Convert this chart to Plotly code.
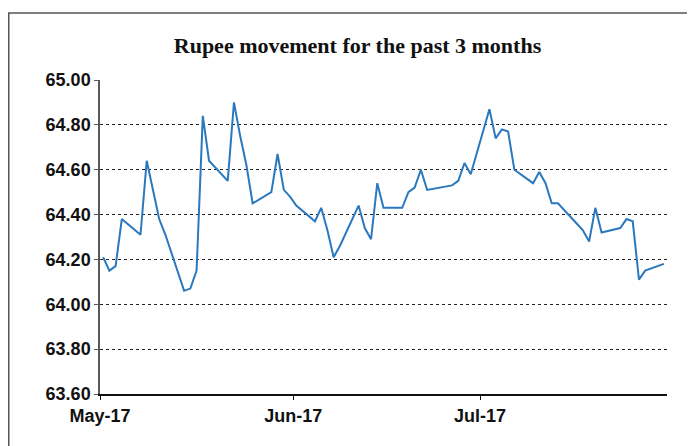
import pandas as pd
import plotly.graph_objects as go

dates = [
    "2017-05-02", "2017-05-03", "2017-05-04", "2017-05-05", "2017-05-08", "2017-05-09",
    "2017-05-11", "2017-05-12", "2017-05-15", "2017-05-16", "2017-05-17", "2017-05-18",
    "2017-05-19", "2017-05-22", "2017-05-23", "2017-05-24", "2017-05-25", "2017-05-26",
    "2017-05-29", "2017-05-30", "2017-05-31", "2017-06-01", "2017-06-02", "2017-06-05",
    "2017-06-06", "2017-06-07", "2017-06-08", "2017-06-09", "2017-06-12", "2017-06-13",
    "2017-06-14", "2017-06-15", "2017-06-16", "2017-06-19", "2017-06-20", "2017-06-21",
    "2017-06-22", "2017-06-23", "2017-06-27", "2017-06-28", "2017-06-29", "2017-06-30",
    "2017-07-03", "2017-07-04", "2017-07-05", "2017-07-06", "2017-07-07", "2017-07-10",
    "2017-07-11", "2017-07-12", "2017-07-13", "2017-07-14", "2017-07-17", "2017-07-18",
    "2017-07-19", "2017-07-20", "2017-07-21", "2017-07-24", "2017-07-25", "2017-07-26",
    "2017-07-27", "2017-07-28", "2017-07-31",
]
rates = [
    64.21, 64.15, 64.17, 64.38, 64.31, 64.64,
    64.38, 64.31, 64.06, 64.07, 64.15, 64.84,
    64.64, 64.55, 64.90, 64.75, 64.62, 64.45,
    64.50, 64.67, 64.51, 64.48, 64.44, 64.37,
    64.43, 64.33, 64.21, 64.26, 64.44, 64.34,
    64.29, 64.54, 64.43, 64.43, 64.50, 64.52,
    64.60, 64.51, 64.53, 64.55, 64.63, 64.58,
    64.87, 64.74, 64.78, 64.77, 64.60, 64.54,
    64.59, 64.54, 64.45, 64.45, 64.36, 64.33,
    64.28, 64.43, 64.32, 64.34, 64.38, 64.37,
    64.11, 64.15, 64.18,
]
month_ticks = ["2017-05-01 12:00", "2017-06-01 12:00", "2017-07-01 12:00"]
month_labels = ["May-17", "Jun-17", "Jul-17"]
x_range = ["2017-05-01 12:00", "2017-07-31 12:00"]
y_ticks = [63.6, 63.8, 64.0, 64.2, 64.4, 64.6, 64.8, 65.0]

# page body adds an 8px margin; the figure is sized to fit the 695x446 window
W, H = 687, 438
L, R, T, B = 92, 28, 72, 52
PW, PH = W - L - R, H - T - B

fig = go.Figure()
fig.add_trace(go.Scatter(
    x=pd.to_datetime(dates), y=rates, mode="lines",
    line=dict(color="#2a78be", width=2), showlegend=False,
))

tick_font = dict(family="Liberation Sans, Arial", size=18, color="#111", weight="bold")

fig.update_layout(
    width=W, height=H,
    margin=dict(l=L, r=R, t=T, b=B),
    paper_bgcolor="white", plot_bgcolor="white",
    title=dict(
        text="Rupee movement for the past 3 months",
        font=dict(family="Liberation Serif, Times New Roman, serif", size=22, color="#111", weight="bold"),
        x=(357.5 - 8) / W, xanchor="center", xref="container",
        y=1 - (45 - 8) / H, yanchor="middle", yref="container",
    ),
    xaxis=dict(
        type="date", range=x_range,
        tickmode="array", tickvals=month_ticks, ticktext=month_labels,
        showgrid=False, zeroline=False,
        showline=True, linecolor="#111", linewidth=2,
        ticks="outside", ticklen=4, tickcolor="#111", tickwidth=1,
        tickfont=tick_font,
    ),
    yaxis=dict(
        range=[63.6, 65.0], tickmode="array", tickvals=y_ticks, tickformat=".2f",
        showgrid=True, gridcolor="#222", gridwidth=1, griddash="3px,3px",
        zeroline=False,
        showline=True, linecolor="#595959", linewidth=1.5,
        ticks="outside", ticklen=4, tickcolor="#595959", tickwidth=1,
        tickfont=tick_font,
    ),
    shapes=[
        dict(type="line", xref="paper", yref="paper",
             x0=-L / PW, x1=(W - L) / PW, y0=(PH + T - 5) / PH, y1=(PH + T - 5) / PH,
             line=dict(color="#555", width=1.5)),
        dict(type="line", xref="paper", yref="paper",
             x0=(0.75 - L) / PW, x1=(0.75 - L) / PW, y0=(PH + T - 5) / PH, y1=-B / PH,
             line=dict(color="#555", width=1.5)),
    ],
)

fig.write_html("out.html")
